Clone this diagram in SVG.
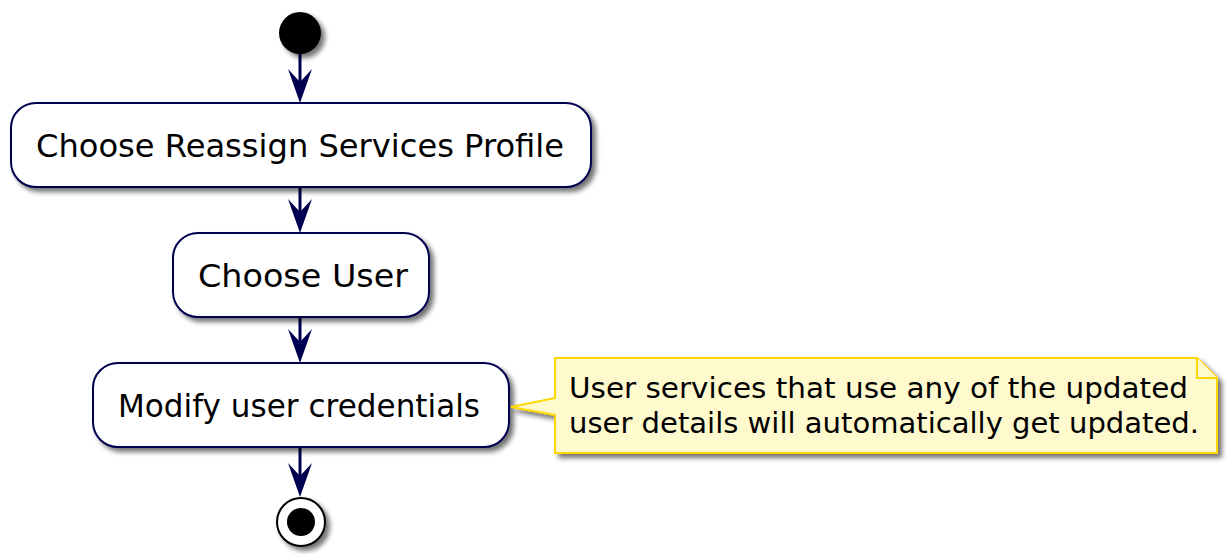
<svg xmlns="http://www.w3.org/2000/svg" width="1231" height="554" viewBox="0 0 1231 554">
<style>
.act{fill:#fff;stroke:#000050;stroke-width:2}
.txt{font-family:"DejaVu Sans",sans-serif;font-size:32px;fill:#000}
.ntxt{font-family:"DejaVu Sans",sans-serif;font-size:29px;fill:#000}
.edge{stroke:#000050;stroke-width:3;fill:none}
.head{fill:#000050}
.note{fill:#FFFACD;stroke:#FFD700;stroke-width:2}
</style>
<defs>
<filter id="sh" x="-20%" y="-20%" width="150%" height="160%">
<feGaussianBlur in="SourceAlpha" stdDeviation="2.5"/>
<feOffset dx="4" dy="4" result="b"/>
<feComponentTransfer><feFuncA type="linear" slope="0.55"/></feComponentTransfer>
<feMerge><feMergeNode/><feMergeNode in="SourceGraphic"/></feMerge>
</filter>
</defs>
<g id="connectors">
<path class="edge" d="M300,54 V96"/>
<path class="head" d="M288,69 L300,103 L312,69 L300,82 Z"/>
<path class="edge" d="M300,187 V226"/>
<path class="head" d="M288,199 L300,233 L312,199 L300,212 Z"/>
<path class="edge" d="M300,317 V356"/>
<path class="head" d="M288,329 L300,363 L312,329 L300,342 Z"/>
<path class="edge" d="M300,447 V490"/>
<path class="head" d="M288,463 L300,497 L312,463 L300,476 Z"/>
</g>
<g id="start">
<circle cx="300" cy="33" r="21" fill="#000" filter="url(#sh)"/>
</g>
<g id="n1">
<rect class="act" x="11" y="103" width="580" height="84" rx="25" filter="url(#sh)"/>
<text class="txt" x="36" y="157" textLength="528" lengthAdjust="spacingAndGlyphs">Choose Reassign Services Profile</text>
</g>
<g id="n2">
<rect class="act" x="173" y="233" width="256" height="84" rx="25" filter="url(#sh)"/>
<text class="txt" x="198" y="287" textLength="210" lengthAdjust="spacingAndGlyphs">Choose User</text>
</g>
<g id="n3">
<rect class="act" x="93" y="363" width="416" height="84" rx="25" filter="url(#sh)"/>
<text class="txt" x="118" y="417" textLength="362" lengthAdjust="spacingAndGlyphs">Modify user credentials</text>
</g>
<g id="note">
<path class="note" d="M555,358 H1197 L1217,378 V453 H555 V415 L511,407 L555,398 Z" filter="url(#sh)"/>
<path class="note" d="M1197,358 V378 H1217"/>
<text class="ntxt" x="569" y="398" textLength="619" lengthAdjust="spacingAndGlyphs">User services that use any of the updated</text>
<text class="ntxt" x="569" y="433" textLength="630" lengthAdjust="spacingAndGlyphs">user details will automatically get updated.</text>
</g>
<g id="end">
<circle cx="301" cy="522" r="24" fill="#fff" stroke="#000" stroke-width="2" filter="url(#sh)"/>
<circle cx="301" cy="522" r="14" fill="#000"/>
</g>
</svg>
